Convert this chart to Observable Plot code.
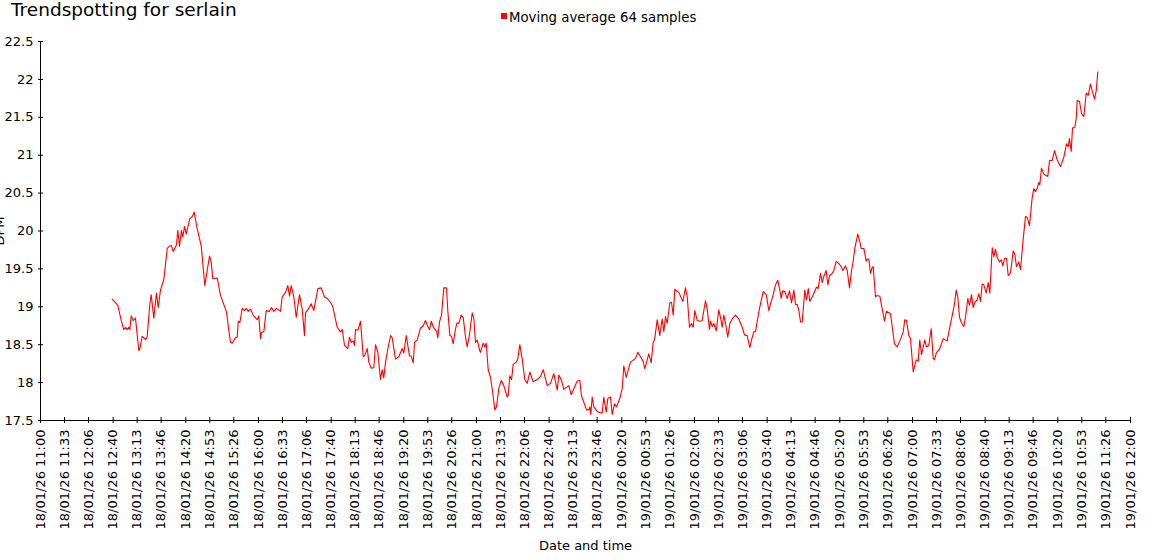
<!DOCTYPE html>
<html>
<head>
<meta charset="utf-8">
<script src="https://cdn.jsdelivr.net/npm/d3@7"></script>
<script src="https://cdn.jsdelivr.net/npm/@observablehq/plot@0.6"></script>
<style>
  body { margin: 0; background: #fff; font-family: "DejaVu Sans", sans-serif; }
  #wrap { position: relative; width: 1150px; height: 560px; overflow: hidden; background: #fff; }
  #hdr { position: relative; height: 30px; }
  #title { position: absolute; left: 11px; top: 1px; font-size: 18.5px; line-height: 18px; white-space: nowrap; color: #000; }
  #swatch { position: absolute; left: 501px; top: 13px; width: 6px; height: 6px; background: red; }
  #legend { position: absolute; left: 509px; top: 11px; font-size: 13.3px; line-height: 13px; white-space: nowrap; color: #000; }
  svg { display: block; }
</style>
</head>
<body>
<div id="wrap">
  <div id="hdr">
    <div id="title">Trendspotting for serlain</div>
    <div id="swatch"></div>
    <div id="legend">Moving average 64 samples</div>
  </div>
  <div id="chart"></div>
</div>
<script>
// Minutes after 18/01/26 11:00 for each moving-average sample
const sampleMinutes = [
  98.7,106.4,111.1,114.6,117.0,119.3,121.5,122.9,124.8,127.6,130.7,135.3,136.7,140.0,144.5,146.8,150.4,152.3,155.9,159.6,
  162.0,165.1,169.7,174.4,177.5,179.9,182.6,187.2,188.9,191.3,194.0,195.8,198.2,200.5,205.5,208.8,211.5,215.6,221.2,226.1,
  229.4,232.6,234.9,237.1,243.2,247.7,256.0,259.1,261.5,263.8,268.3,270.7,272.1,274.3,277.6,280.7,283.1,285.8,289.0,292.7,
  298.2,300.4,302.8,304.1,307.3,310.6,315.1,317.9,321.1,324.8,330.3,332.6,337.2,340.3,342.7,345.0,348.6,351.9,356.4,360.1,
  363.3,364.7,369.2,372.5,376.1,381.6,386.3,390.8,394.5,399.1,402.3,408.3,412.8,415.2,418.4,422.9,425.2,427.6,430.3,432.1,
  433.5,436.7,440.4,444.1,446.3,449.6,451.8,455.1,458.7,461.0,464.2,467.9,470.2,472.4,474.8,477.9,481.7,484.0,488.5,493.1,
  497.7,500.0,503.3,507.8,510.1,512.9,514.7,518.4,522.9,526.7,529.8,533.0,535.3,537.7,541.2,545.0,546.7,549.1,551.8,555.0,
  558.7,560.5,563.3,565.6,567.9,571.1,573.4,575.7,578.9,581.7,584.9,587.2,590.4,594.1,596.3,598.6,601.0,604.5,605.5,609.2,
  611.4,613.4,616.1,619.3,622.4,625.2,627.5,630.7,634.0,637.6,642.2,643.6,645.8,648.2,650.5,654.6,656.8,659.6,662.9,666.5,
  669.8,673.4,678.0,683.5,688.1,691.8,697.3,701.8,706.4,711.1,713.3,717.0,720.1,727.0,730.3,733.9,738.6,742.2,744.5,747.7,
  751.4,754.5,755.9,757.3,759.2,761.4,766.1,770.6,773.0,775.2,778.5,780.7,784.4,786.7,789.9,792.7,797.2,800.5,802.7,806.0,
  811.9,818.8,822.0,825.7,829.4,831.6,837.1,840.4,843.2,845.0,848.7,852.2,855.5,857.8,860.1,862.4,866.0,868.3,870.7,872.9,
  878.4,883.9,887.6,890.0,893.1,895.9,898.2,900.4,903.7,908.3,910.6,915.1,917.5,920.6,922.0,924.4,926.6,929.9,933.4,935.8,
  938.1,940.3,942.7,945.8,948.6,951.9,956.4,961.0,965.7,968.8,972.5,976.1,978.4,981.6,983.9,986.3,989.9,994.5,998.7,1002.3,
  1004.6,1008.3,1011.5,1014.6,1017.4,1019.3,1021.5,1024.3,1027.6,1030.7,1033.5,1036.7,1039.0,1041.3,1043.5,1045.9,1048.2,1051.8,1054.1,1056.5,
  1058.7,1063.4,1067.9,1070.2,1073.4,1075.7,1077.9,1081.2,1083.5,1085.8,1089.5,1091.7,1095.0,1098.6,1101.9,1104.1,1107.8,1110.1,1113.3,1116.1,
  1117.9,1120.6,1124.7,1127.5,1129.4,1133.0,1136.3,1137.7,1139.9,1142.2,1144.5,1145.9,1149.1,1151.4,1155.0,1161.5,1164.2,1169.7,1175.2,1178.9,
  1183.5,1187.2,1189.4,1191.7,1194.9,1197.2,1201.0,1205.1,1207.8,1210.0,1212.4,1216.9,1219.3,1222.4,1225.7,1228.5,1230.3,1233.0,1237.2,1242.3,
  1247.8,1250.0,1253.3,1256.0,1257.8,1260.1,1262.3,1264.7,1267.4,1270.6,1272.9,1276.1,1278.4,1281.2,1283.5,1285.7,1289.0,1291.2,1293.6,1295.9,
  1298.1,1301.4,1304.2,1306.4,1309.7,1311.9,1314.2,1316.6,1319.7,1322.1,1324.3,1326.6,1329.4,1331.7,1334.9,1338.6,1340.8,1343.1,1346.3,1348.6,
  1352.4,1355.5,1357.8,1361.0,1364.7,1366.9,1369.2,1371.6,1373.8,1375.2,1377.5,1380.7,1386.2,1388.5,1392.2,1395.4,1399.1,1403.6,1408.2,1411.9,
  1414.2,1416.0,1418.4,1420.2,1423.4,1425.3,1426.6,1429.8,1432.6,1435.8,1439.1,1441.8,1444.9,1447.3,1450.5,1452.8,1455.0
];
// Moving average 64 samples
const movingAverage = [
  19.10,19.02,18.82,18.70,18.73,18.70,18.73,18.70,18.88,18.82,18.85,18.42,18.45,18.61,18.57,18.60,19.03,19.16,18.85,19.18,
  18.99,19.22,19.36,19.77,19.80,19.81,19.73,19.82,20.01,19.80,20.01,19.92,20.06,19.96,20.16,20.19,20.25,20.03,19.80,19.28,
  19.48,19.67,19.59,19.37,19.38,19.15,18.93,18.69,18.53,18.52,18.59,18.60,18.81,18.79,18.98,18.95,18.98,18.94,18.97,18.89,
  18.83,18.88,18.58,18.66,18.67,18.95,18.94,18.99,18.94,18.98,18.94,19.13,19.19,19.28,19.14,19.28,19.13,18.86,19.16,18.97,
  18.62,18.92,18.98,19.04,18.95,19.24,19.25,19.13,19.11,19.06,19.00,18.73,18.67,18.70,18.49,18.45,18.60,18.53,18.55,18.49,
  18.70,18.69,18.81,18.34,18.36,18.45,18.27,18.19,18.20,18.50,18.40,18.04,18.17,18.06,18.27,18.44,18.62,18.59,18.31,18.34,
  18.45,18.39,18.62,18.35,18.35,18.26,18.53,18.56,18.72,18.75,18.82,18.74,18.70,18.81,18.72,18.68,18.59,18.80,18.89,19.25,
  19.25,18.95,18.62,18.61,18.51,18.71,18.79,18.78,18.89,18.86,18.60,18.47,18.64,18.92,18.84,18.53,18.56,18.42,18.40,18.52,
  18.47,18.52,18.17,18.07,17.86,17.64,17.68,17.92,18.03,17.96,17.81,17.83,18.09,18.04,18.24,18.27,18.31,18.50,18.31,18.04,
  17.99,18.14,18.01,18.04,18.08,18.17,17.96,17.99,18.12,17.90,18.10,18.03,17.91,17.96,17.84,17.92,18.02,18.03,17.82,17.74,
  17.64,17.64,17.68,17.58,17.81,17.68,17.62,17.60,17.60,17.81,17.61,17.79,17.81,17.58,17.72,17.68,17.79,17.92,18.22,18.07,
  18.27,18.32,18.40,18.34,18.28,18.18,18.38,18.26,18.54,18.56,18.83,18.62,18.84,18.67,18.87,18.78,19.05,19.06,18.89,19.23,
  19.19,19.07,19.25,19.13,18.73,18.78,18.73,18.95,18.82,18.81,18.82,19.08,18.97,18.70,18.81,18.74,18.78,18.68,18.96,18.86,
  18.73,18.89,18.78,18.60,18.78,18.84,18.89,18.84,18.73,18.63,18.62,18.46,18.56,18.67,18.67,18.81,19.00,19.20,19.16,18.95,
  19.04,19.16,19.29,19.35,19.22,19.11,19.21,19.20,19.11,19.21,19.05,19.22,19.03,19.03,18.96,18.80,18.80,19.22,19.09,19.24,
  19.07,19.16,19.26,19.24,19.44,19.32,19.40,19.48,19.29,19.41,19.44,19.48,19.60,19.57,19.53,19.48,19.54,19.48,19.25,19.48,
  19.57,19.77,19.96,19.86,19.77,19.77,19.60,19.63,19.63,19.44,19.52,19.53,19.13,19.15,19.14,18.81,18.94,18.91,18.51,18.47,
  18.57,18.67,18.83,18.82,18.62,18.58,18.14,18.30,18.28,18.56,18.37,18.56,18.47,18.49,18.71,18.32,18.30,18.40,18.44,18.58,
  18.55,18.67,18.82,18.95,19.04,19.22,19.13,18.86,18.79,18.74,18.86,19.11,19.02,19.16,18.99,19.06,19.09,19.17,19.07,19.30,
  19.29,19.18,19.32,19.18,19.78,19.66,19.76,19.65,19.59,19.62,19.54,19.64,19.64,19.41,19.45,19.74,19.69,19.53,19.59,19.49,
  19.90,20.19,20.18,20.07,20.44,20.56,20.52,20.56,20.64,20.61,20.83,20.75,20.72,20.93,20.93,21.06,20.94,20.85,20.97,21.15,
  21.11,21.22,21.05,21.36,21.37,21.48,21.72,21.71,21.55,21.51,21.82,21.79,21.94,21.85,21.74,21.85,22.10
];
const xTickLabels = [
  "18/01/26 11:00","18/01/26 11:33","18/01/26 12:06","18/01/26 12:40","18/01/26 13:13","18/01/26 13:46",
  "18/01/26 14:20","18/01/26 14:53","18/01/26 15:26","18/01/26 16:00","18/01/26 16:33","18/01/26 17:06",
  "18/01/26 17:40","18/01/26 18:13","18/01/26 18:46","18/01/26 19:20","18/01/26 19:53","18/01/26 20:26",
  "18/01/26 21:00","18/01/26 21:33","18/01/26 22:06","18/01/26 22:40","18/01/26 23:13","18/01/26 23:46",
  "19/01/26 00:20","19/01/26 00:53","19/01/26 01:26","19/01/26 02:00","19/01/26 02:33","19/01/26 03:06",
  "19/01/26 03:40","19/01/26 04:13","19/01/26 04:46","19/01/26 05:20","19/01/26 05:53","19/01/26 06:26",
  "19/01/26 07:00","19/01/26 07:33","19/01/26 08:06","19/01/26 08:40","19/01/26 09:13","19/01/26 09:46",
  "19/01/26 10:20","19/01/26 10:53","19/01/26 11:26","19/01/26 12:00"
];
const yTicks = [17.5, 18, 18.5, 19, 19.5, 20, 20.5, 21, 21.5, 22, 22.5];
const xLabel = "Date and time";
const yLabel = "DPM";

const fmt = "%d/%m/%y %H:%M";
const parse = d3.utcParse(fmt);
const xTickDates = xTickLabels.map(parse);
const start = xTickDates[0];
const end = xTickDates[xTickDates.length - 1];
const data = sampleMinutes.map((m, i) => ({t: new Date(start.getTime() + m * 60000), v: movingAverage[i]}));

const chart = Plot.plot({
  width: 1150,
  height: 530,
  marginTop: 11,
  marginLeft: 40,
  marginRight: 20,
  marginBottom: 140,
  style: {fontFamily: "DejaVu Sans", fontSize: "13px", color: "#000", background: "#fff", overflow: "visible"},
  x: {type: "utc", domain: [start, end]},
  y: {domain: [yTicks[0], yTicks[yTicks.length - 1]]},
  marks: [
    Plot.axisX({ticks: xTickDates, tickSize: 0, tickPadding: 9, tickRotate: -90, tickFormat: d3.utcFormat(fmt), label: null, fill: "#000", fontSize: 13}),
    Plot.axisY({ticks: yTicks, tickSize: 0, tickPadding: 7, tickFormat: d => String(d), label: null, fill: "#000", fontSize: 13}),
    Plot.ruleX(xTickDates, {x: d => d, y1: () => yTicks[0], y2: () => yTicks[0], insetTop: -3, insetBottom: -3, stroke: "#000"}),
    Plot.ruleY(yTicks, {y: d => d, x1: () => start, x2: () => start, insetLeft: -2, insetRight: -3, stroke: "#000"}),
    Plot.ruleX([start], {stroke: "#000"}),
    Plot.ruleY([yTicks[0]], {stroke: "#000"}),
    Plot.line(data, {x: "t", y: "v", stroke: "red", strokeWidth: 1.1}),
    Plot.text([xLabel], {frameAnchor: "bottom", lineAnchor: "bottom", textAnchor: "middle", dy: 129, fontSize: 13, fill: "#000"}),
    Plot.text([yLabel], {frameAnchor: "left", lineAnchor: "bottom", textAnchor: "middle", rotate: -90, dx: -37, fontSize: 13, fill: "#000"})
  ]
});
document.getElementById("chart").appendChild(chart);
</script>
</body>
</html>
